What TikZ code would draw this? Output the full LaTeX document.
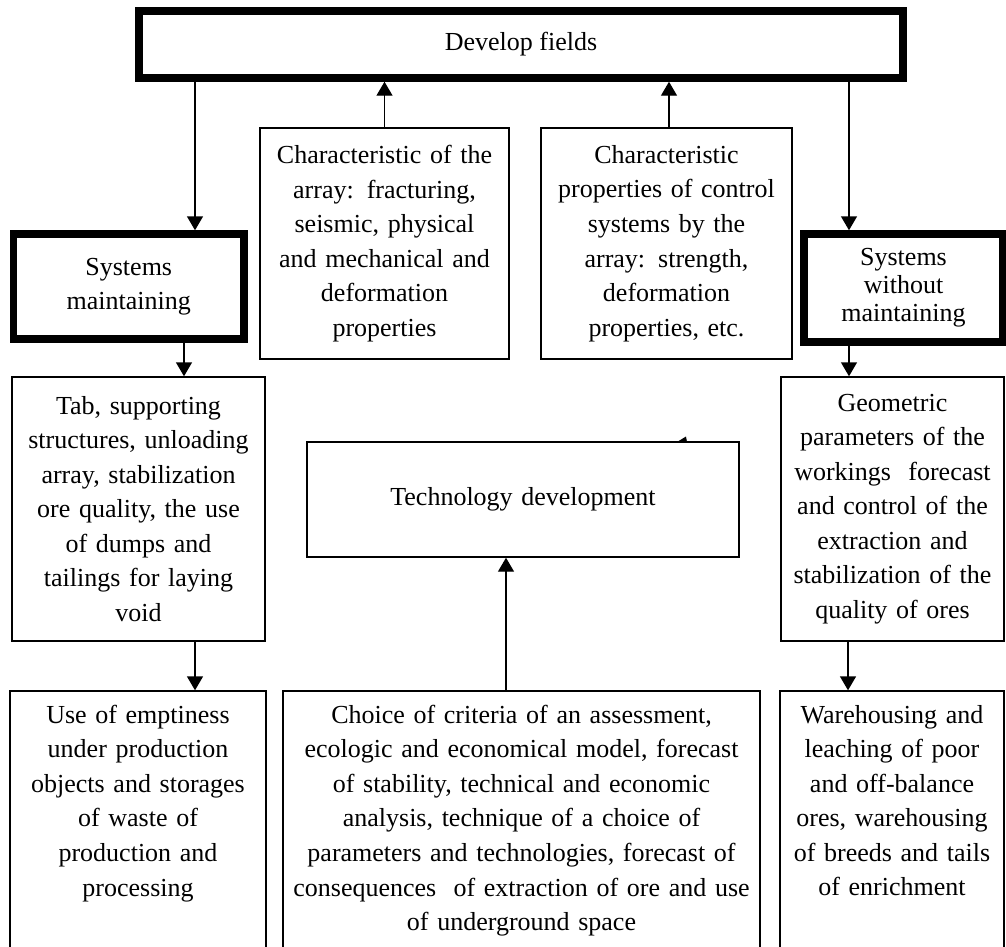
\documentclass[tikz,border=0pt]{standalone}
\usepackage{fontspec}
\setmainfont{Liberation Serif}
\usepackage{xcolor}
\usetikzlibrary{arrows.meta}
\definecolor{ink}{HTML}{000000}

\begin{document}
\begin{tikzpicture}[x=0.75pt,y=-0.75pt,
  box/.style={draw=ink, line width=1.1pt, align=center, inner xsep=2pt,
    font=\fontsize{19.5}{25.9}\selectfont},
  heavybox/.style={box, line width=5.6pt},
  openbox/.style={box, anchor=north, inner ysep=10.5pt, text depth=220pt},
  arr/.style={draw=ink, line width=1.1pt, -{Triangle[width=12pt,length=10.5pt]}}]
% Page frame
\clip (0,0) rectangle (1006,946);
\fill[white] (0,0) rectangle (1006,946);

% Top box
\node[heavybox, minimum width=573pt, minimum height=50.25pt] (fields) at (521,44.5) {Develop fields};

% Two boxes under the top one
\node[box, text width=182.75pt, minimum height=173.25pt] (array) at (384.5,243.5)
  {Characteristic of the\\ array: fracturing,\\ seismic, physical\\ and mechanical and\\ deformation\\ properties};
\node[box, text width=184.25pt, minimum height=173.25pt] (control) at (666.5,243.5)
  {Characteristic\\ properties of control\\ systems by the\\ array: strength,\\ deformation\\ properties, etc.};

% Systems
\node[heavybox, text width=168.9pt, minimum height=78.75pt] (maint) at (128.75,286.5)
  {Systems\\ maintaining};
\node[heavybox, text width=145.25pt, minimum height=81pt, font=\fontsize{19.5}{21}\selectfont] (nomaint) at (903.5,288)
  {Systems\\ without\\ maintaining};

% Middle row
\node[box, text width=185.75pt, minimum height=198pt] (tab) at (138.5,509)
  {Tab, supporting\\ structures, unloading\\ array, stabilization\\ ore quality, the use\\ of dumps and\\ tailings for laying\\ void};
\node[box, text width=163.25pt, minimum height=198pt] (geom) at (892.5,509)
  {Geometric\\ parameters of the\\ workings\ \ forecast\\ and control of the\\ extraction and\\ stabilization of the\\ quality of ores};
\node[box, text width=320pt, minimum height=86.25pt] (tech) at (523,499.5) {Technology development};
\fill[ink] (677,442) -- (686,436.5) -- (687,442) -- cycle;

% Bottom row (cut by the page edge)
\node[openbox, text width=188pt] (usage) at (138,690.3)
  {Use of emptiness\\ under production\\ objects and storages\\ of waste of\\ production and\\ processing};
\node[openbox, text width=353.75pt] (choice) at (521.5,690.3)
  {Choice of criteria of an assessment,\\ ecologic and economical model, forecast\\ of stability, technical and economic\\ analysis, technique of a choice of\\ parameters and technologies, forecast of\\ consequences\ \ of extraction of ore and use\\ of underground space};
\node[openbox, text width=164pt] (store) at (892,690.3)
  {Warehousing and\\ leaching of poor\\ and off-balance\\ ores, warehousing\\ of breeds and tails\\ of enrichment};

% Arrows down
\foreach \a/\b/\x in {fields/maint/195, fields/nomaint/849, maint/tab/184,
    nomaint/geom/849, tab/usage/195, geom/store/848}{
  \coordinate (p) at (\x,0);
  \draw[arr] (\a.south -| p) -- (\b.north -| p);
}
% Arrows up
\foreach \a/\b/\x in {array/fields/384.5, control/fields/669, choice/tech/506}{
  \coordinate (p) at (\x,0);
  \draw[arr] (\a.north -| p) -- (\b.south -| p);
}
\end{tikzpicture}
\end{document}
